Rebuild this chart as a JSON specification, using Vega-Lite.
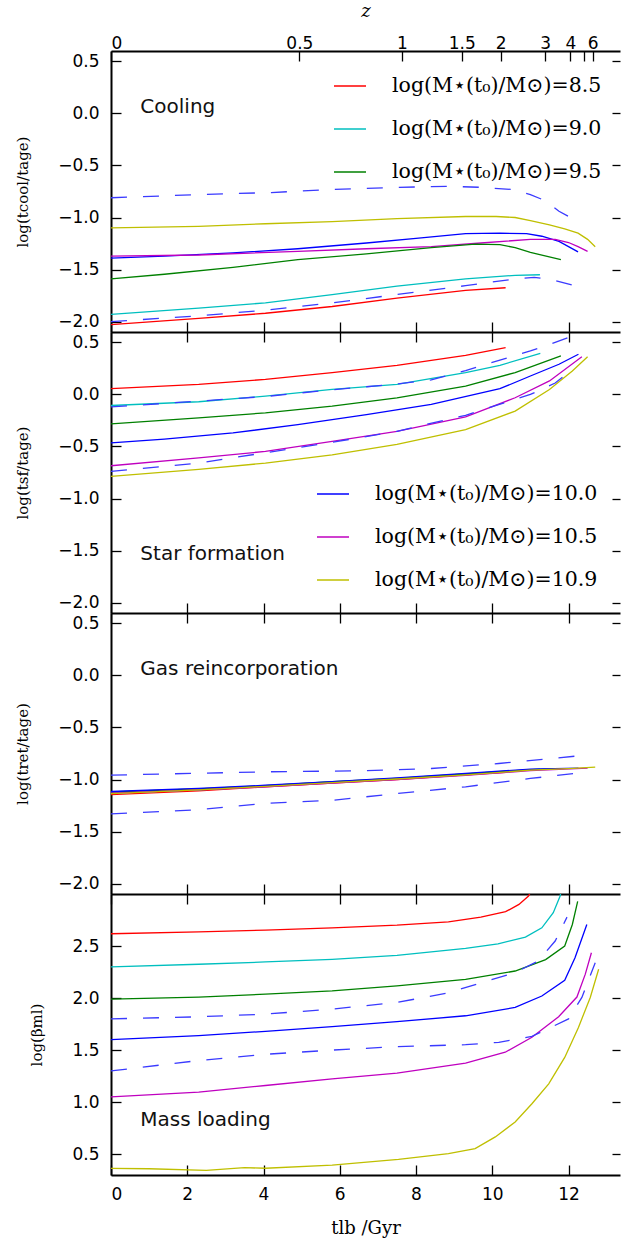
{
  "$schema": "https://vega.github.io/schema/vega-lite/v6.json",
  "background": "white",
  "padding": {"left": 15, "top": 2, "right": 0, "bottom": 2},
  "spacing": 0,
  "bounds": "flush",
  "config": {
    "view": {"stroke": null},
    "axis": {"domainColor": "black", "domainWidth": 2, "tickColor": "black", "tickWidth": 1.3, "tickSize": -10, "labelFont": "DejaVu Sans", "labelFontSize": 17, "labelColor": "black", "labelPadding": 22, "grid": false, "titleFont": "DejaVu Serif", "titleFontSize": 15, "titleFontWeight": "normal", "titleColor": "black", "titlePadding": 27},
    "legend": {"symbolType": "stroke", "symbolSize": 1024, "symbolStrokeWidth": 1.5, "labelFont": "DejaVu Serif", "labelFontSize": 20.5, "labelColor": "black", "labelLimit": 400, "rowPadding": 15, "labelOffset": 25, "offset": 18, "padding": 0}
  },
  "resolve": {"scale": {"color": "independent"}},
  "data": {"values": [
    {"p":1,"s":"hi","t":0,"v":-0.81},{"p":1,"s":"hi","t":2.3,"v":-0.78},{"p":1,"s":"hi","t":4.2,"v":-0.76},{"p":1,"s":"hi","t":5.8,"v":-0.73},{"p":1,"s":"hi","t":7.5,"v":-0.71},{"p":1,"s":"hi","t":8.85,"v":-0.7},{"p":1,"s":"hi","t":9.7,"v":-0.71},{"p":1,"s":"hi","t":10.5,"v":-0.73},{"p":1,"s":"hi","t":11.0,"v":-0.78},{"p":1,"s":"hi","t":11.4,"v":-0.84},{"p":1,"s":"hi","t":11.75,"v":-0.94},{"p":1,"s":"hi","t":12.05,"v":-1.0},
    {"p":1,"s":"10.9","t":0,"v":-1.1},{"p":1,"s":"10.9","t":2.3,"v":-1.085},{"p":1,"s":"10.9","t":4.05,"v":-1.06},{"p":1,"s":"10.9","t":5.8,"v":-1.04},{"p":1,"s":"10.9","t":7.5,"v":-1.01},{"p":1,"s":"10.9","t":9.3,"v":-0.99},{"p":1,"s":"10.9","t":10.1,"v":-0.99},{"p":1,"s":"10.9","t":10.6,"v":-1.0},{"p":1,"s":"10.9","t":11.0,"v":-1.03},{"p":1,"s":"10.9","t":11.5,"v":-1.07},{"p":1,"s":"10.9","t":11.9,"v":-1.11},{"p":1,"s":"10.9","t":12.25,"v":-1.15},{"p":1,"s":"10.9","t":12.5,"v":-1.21},{"p":1,"s":"10.9","t":12.7,"v":-1.28},
    {"p":1,"s":"10.0","t":0,"v":-1.39},{"p":1,"s":"10.0","t":1.4,"v":-1.37},{"p":1,"s":"10.0","t":3.2,"v":-1.34},{"p":1,"s":"10.0","t":4.9,"v":-1.3},{"p":1,"s":"10.0","t":6.7,"v":-1.245},{"p":1,"s":"10.0","t":8.0,"v":-1.2},{"p":1,"s":"10.0","t":9.3,"v":-1.155},{"p":1,"s":"10.0","t":10.2,"v":-1.15},{"p":1,"s":"10.0","t":10.9,"v":-1.155},{"p":1,"s":"10.0","t":11.3,"v":-1.18},{"p":1,"s":"10.0","t":11.75,"v":-1.23},{"p":1,"s":"10.0","t":12.0,"v":-1.28},{"p":1,"s":"10.0","t":12.25,"v":-1.33},
    {"p":1,"s":"10.5","t":0,"v":-1.37},{"p":1,"s":"10.5","t":2.3,"v":-1.36},{"p":1,"s":"10.5","t":4.9,"v":-1.325},{"p":1,"s":"10.5","t":6.7,"v":-1.3},{"p":1,"s":"10.5","t":8.4,"v":-1.28},{"p":1,"s":"10.5","t":9.7,"v":-1.245},{"p":1,"s":"10.5","t":11.0,"v":-1.21},{"p":1,"s":"10.5","t":11.65,"v":-1.21},{"p":1,"s":"10.5","t":12.0,"v":-1.24},{"p":1,"s":"10.5","t":12.25,"v":-1.28},{"p":1,"s":"10.5","t":12.5,"v":-1.325},
    {"p":1,"s":"9.5","t":0,"v":-1.59},{"p":1,"s":"9.5","t":1.4,"v":-1.545},{"p":1,"s":"9.5","t":3.2,"v":-1.48},{"p":1,"s":"9.5","t":4.9,"v":-1.405},{"p":1,"s":"9.5","t":6.7,"v":-1.35},{"p":1,"s":"9.5","t":8.4,"v":-1.29},{"p":1,"s":"9.5","t":9.55,"v":-1.255},{"p":1,"s":"9.5","t":10.2,"v":-1.26},{"p":1,"s":"9.5","t":10.6,"v":-1.29},{"p":1,"s":"9.5","t":11.0,"v":-1.335},{"p":1,"s":"9.5","t":11.8,"v":-1.405},
    {"p":1,"s":"9.0","t":0,"v":-1.93},{"p":1,"s":"9.0","t":2.3,"v":-1.87},{"p":1,"s":"9.0","t":4.05,"v":-1.82},{"p":1,"s":"9.0","t":5.8,"v":-1.74},{"p":1,"s":"9.0","t":7.5,"v":-1.66},{"p":1,"s":"9.0","t":9.3,"v":-1.59},{"p":1,"s":"9.0","t":10.6,"v":-1.555},{"p":1,"s":"9.0","t":11.25,"v":-1.55},
    {"p":1,"s":"8.5","t":0,"v":-2.03},{"p":1,"s":"8.5","t":2.3,"v":-1.97},{"p":1,"s":"8.5","t":4.05,"v":-1.92},{"p":1,"s":"8.5","t":5.8,"v":-1.855},{"p":1,"s":"8.5","t":7.5,"v":-1.775},{"p":1,"s":"8.5","t":9.3,"v":-1.7},{"p":1,"s":"8.5","t":10.35,"v":-1.675},
    {"p":1,"s":"lo","t":0,"v":-2.0},{"p":1,"s":"lo","t":2.3,"v":-1.945},{"p":1,"s":"lo","t":4.05,"v":-1.89},{"p":1,"s":"lo","t":5.8,"v":-1.82},{"p":1,"s":"lo","t":7.5,"v":-1.74},{"p":1,"s":"lo","t":9.3,"v":-1.655},{"p":1,"s":"lo","t":10.6,"v":-1.59},{"p":1,"s":"lo","t":11.1,"v":-1.575},{"p":1,"s":"lo","t":11.6,"v":-1.6},{"p":1,"s":"lo","t":12.1,"v":-1.65},

    {"p":2,"s":"8.5","t":0,"v":0.055},{"p":2,"s":"8.5","t":2.3,"v":0.096},{"p":2,"s":"8.5","t":4.05,"v":0.145},{"p":2,"s":"8.5","t":5.8,"v":0.21},{"p":2,"s":"8.5","t":7.5,"v":0.28},{"p":2,"s":"8.5","t":9.3,"v":0.376},{"p":2,"s":"8.5","t":10.35,"v":0.45},
    {"p":2,"s":"9.0","t":0,"v":-0.106},{"p":2,"s":"9.0","t":2.3,"v":-0.07},{"p":2,"s":"9.0","t":4.05,"v":-0.016},{"p":2,"s":"9.0","t":5.8,"v":0.048},{"p":2,"s":"9.0","t":7.5,"v":0.096},{"p":2,"s":"9.0","t":9.3,"v":0.21},{"p":2,"s":"9.0","t":10.2,"v":0.28},{"p":2,"s":"9.0","t":11.26,"v":0.395},
    {"p":2,"s":"9.5","t":0,"v":-0.283},{"p":2,"s":"9.5","t":2.3,"v":-0.225},{"p":2,"s":"9.5","t":4.05,"v":-0.177},{"p":2,"s":"9.5","t":5.8,"v":-0.113},{"p":2,"s":"9.5","t":7.5,"v":-0.032},{"p":2,"s":"9.5","t":9.3,"v":0.08},{"p":2,"s":"9.5","t":10.6,"v":0.21},{"p":2,"s":"9.5","t":11.8,"v":0.37},
    {"p":2,"s":"10.0","t":0,"v":-0.466},{"p":2,"s":"10.0","t":1.4,"v":-0.43},{"p":2,"s":"10.0","t":3.2,"v":-0.37},{"p":2,"s":"10.0","t":4.9,"v":-0.29},{"p":2,"s":"10.0","t":6.7,"v":-0.193},{"p":2,"s":"10.0","t":8.4,"v":-0.096},{"p":2,"s":"10.0","t":10.2,"v":0.055},{"p":2,"s":"10.0","t":11.0,"v":0.177},{"p":2,"s":"10.0","t":11.75,"v":0.29},{"p":2,"s":"10.0","t":12.26,"v":0.386},
    {"p":2,"s":"10.5","t":0,"v":-0.685},{"p":2,"s":"10.5","t":2.3,"v":-0.61},{"p":2,"s":"10.5","t":4.05,"v":-0.547},{"p":2,"s":"10.5","t":5.8,"v":-0.45},{"p":2,"s":"10.5","t":7.5,"v":-0.354},{"p":2,"s":"10.5","t":9.3,"v":-0.215},{"p":2,"s":"10.5","t":10.6,"v":-0.032},{"p":2,"s":"10.5","t":11.5,"v":0.13},{"p":2,"s":"10.5","t":12.35,"v":0.363},
    {"p":2,"s":"10.9","t":0,"v":-0.788},{"p":2,"s":"10.9","t":2.3,"v":-0.72},{"p":2,"s":"10.9","t":4.05,"v":-0.66},{"p":2,"s":"10.9","t":5.8,"v":-0.58},{"p":2,"s":"10.9","t":7.5,"v":-0.48},{"p":2,"s":"10.9","t":9.3,"v":-0.338},{"p":2,"s":"10.9","t":10.6,"v":-0.16},{"p":2,"s":"10.9","t":11.5,"v":0.048},{"p":2,"s":"10.9","t":12.1,"v":0.225},{"p":2,"s":"10.9","t":12.5,"v":0.363},
    {"p":2,"s":"hi","t":0,"v":-0.12},{"p":2,"s":"hi","t":2.3,"v":-0.064},{"p":2,"s":"hi","t":4.05,"v":-0.02},{"p":2,"s":"hi","t":5.8,"v":0.045},{"p":2,"s":"hi","t":7.5,"v":0.1},{"p":2,"s":"hi","t":8.4,"v":0.14},{"p":2,"s":"hi","t":9.3,"v":0.23},{"p":2,"s":"hi","t":10.2,"v":0.33},{"p":2,"s":"hi","t":11.0,"v":0.418},{"p":2,"s":"hi","t":11.5,"v":0.48},{"p":2,"s":"hi","t":12.0,"v":0.547},
    {"p":2,"s":"lo","t":0,"v":-0.74},{"p":2,"s":"lo","t":2.3,"v":-0.66},{"p":2,"s":"lo","t":4.05,"v":-0.56},{"p":2,"s":"lo","t":5.8,"v":-0.46},{"p":2,"s":"lo","t":7.5,"v":-0.354},{"p":2,"s":"lo","t":9.3,"v":-0.2},{"p":2,"s":"lo","t":11.0,"v":0.0},{"p":2,"s":"lo","t":11.65,"v":0.11},{"p":2,"s":"lo","t":12.1,"v":0.24},

    {"p":3,"s":"8.5","t":0,"v":-1.145},{"p":3,"s":"8.5","t":2.3,"v":-1.11},{"p":3,"s":"8.5","t":4.05,"v":-1.07},{"p":3,"s":"8.5","t":5.8,"v":-1.035},{"p":3,"s":"8.5","t":7.5,"v":-1.0},{"p":3,"s":"8.5","t":9.3,"v":-0.955},{"p":3,"s":"8.5","t":10.35,"v":-0.93},
    {"p":3,"s":"9.0","t":0,"v":-1.13},{"p":3,"s":"9.0","t":2.3,"v":-1.1},{"p":3,"s":"9.0","t":4.05,"v":-1.065},{"p":3,"s":"9.0","t":5.8,"v":-1.03},{"p":3,"s":"9.0","t":7.5,"v":-0.995},{"p":3,"s":"9.0","t":9.3,"v":-0.95},{"p":3,"s":"9.0","t":11.25,"v":-0.9},
    {"p":3,"s":"9.5","t":0,"v":-1.12},{"p":3,"s":"9.5","t":2.3,"v":-1.09},{"p":3,"s":"9.5","t":4.05,"v":-1.06},{"p":3,"s":"9.5","t":5.8,"v":-1.02},{"p":3,"s":"9.5","t":7.5,"v":-0.99},{"p":3,"s":"9.5","t":9.3,"v":-0.945},{"p":3,"s":"9.5","t":11.0,"v":-0.905},{"p":3,"s":"9.5","t":11.8,"v":-0.895},
    {"p":3,"s":"10.0","t":0,"v":-1.115},{"p":3,"s":"10.0","t":2.3,"v":-1.085},{"p":3,"s":"10.0","t":4.05,"v":-1.055},{"p":3,"s":"10.0","t":5.8,"v":-1.02},{"p":3,"s":"10.0","t":7.5,"v":-0.985},{"p":3,"s":"10.0","t":9.3,"v":-0.94},{"p":3,"s":"10.0","t":11.0,"v":-0.9},{"p":3,"s":"10.0","t":12.26,"v":-0.89},
    {"p":3,"s":"10.5","t":0,"v":-1.13},{"p":3,"s":"10.5","t":2.3,"v":-1.1},{"p":3,"s":"10.5","t":4.05,"v":-1.07},{"p":3,"s":"10.5","t":5.8,"v":-1.035},{"p":3,"s":"10.5","t":7.5,"v":-1.0},{"p":3,"s":"10.5","t":9.3,"v":-0.96},{"p":3,"s":"10.5","t":11.0,"v":-0.915},{"p":3,"s":"10.5","t":12.5,"v":-0.89},
    {"p":3,"s":"10.9","t":0,"v":-1.135},{"p":3,"s":"10.9","t":2.3,"v":-1.1},{"p":3,"s":"10.9","t":4.05,"v":-1.065},{"p":3,"s":"10.9","t":5.8,"v":-1.03},{"p":3,"s":"10.9","t":7.5,"v":-0.995},{"p":3,"s":"10.9","t":9.3,"v":-0.955},{"p":3,"s":"10.9","t":11.0,"v":-0.91},{"p":3,"s":"10.9","t":12.0,"v":-0.895},{"p":3,"s":"10.9","t":12.7,"v":-0.88},
    {"p":3,"s":"hi","t":0,"v":-0.958},{"p":3,"s":"hi","t":4.05,"v":-0.926},{"p":3,"s":"hi","t":6.67,"v":-0.916},{"p":3,"s":"hi","t":8.4,"v":-0.894},{"p":3,"s":"hi","t":10.17,"v":-0.846},{"p":3,"s":"hi","t":12.2,"v":-0.775},
    {"p":3,"s":"lo","t":0,"v":-1.33},{"p":3,"s":"lo","t":2.3,"v":-1.29},{"p":3,"s":"lo","t":4.05,"v":-1.23},{"p":3,"s":"lo","t":5.8,"v":-1.2},{"p":3,"s":"lo","t":7.5,"v":-1.135},{"p":3,"s":"lo","t":9.3,"v":-1.07},{"p":3,"s":"lo","t":11.0,"v":-0.99},{"p":3,"s":"lo","t":12.2,"v":-0.94},

    {"p":4,"s":"8.5","t":0,"v":2.618},{"p":4,"s":"8.5","t":2.3,"v":2.637},{"p":4,"s":"8.5","t":4.05,"v":2.653},{"p":4,"s":"8.5","t":5.8,"v":2.675},{"p":4,"s":"8.5","t":7.5,"v":2.7},{"p":4,"s":"8.5","t":8.85,"v":2.733},{"p":4,"s":"8.5","t":9.7,"v":2.777},{"p":4,"s":"8.5","t":10.35,"v":2.83},{"p":4,"s":"8.5","t":10.7,"v":2.9},{"p":4,"s":"8.5","t":10.95,"v":2.98},{"p":4,"s":"8.5","t":11.05,"v":3.05},
    {"p":4,"s":"9.0","t":0,"v":2.3},{"p":4,"s":"9.0","t":2.3,"v":2.325},{"p":4,"s":"9.0","t":4.05,"v":2.347},{"p":4,"s":"9.0","t":5.8,"v":2.372},{"p":4,"s":"9.0","t":7.5,"v":2.41},{"p":4,"s":"9.0","t":9.3,"v":2.478},{"p":4,"s":"9.0","t":10.15,"v":2.52},{"p":4,"s":"9.0","t":10.87,"v":2.586},{"p":4,"s":"9.0","t":11.3,"v":2.675},{"p":4,"s":"9.0","t":11.6,"v":2.82},{"p":4,"s":"9.0","t":11.78,"v":2.98},{"p":4,"s":"9.0","t":11.82,"v":3.05},
    {"p":4,"s":"9.5","t":0,"v":1.99},{"p":4,"s":"9.5","t":2.3,"v":2.01},{"p":4,"s":"9.5","t":4.05,"v":2.037},{"p":4,"s":"9.5","t":5.8,"v":2.069},{"p":4,"s":"9.5","t":7.5,"v":2.117},{"p":4,"s":"9.5","t":9.3,"v":2.18},{"p":4,"s":"9.5","t":10.6,"v":2.26},{"p":4,"s":"9.5","t":11.4,"v":2.37},{"p":4,"s":"9.5","t":11.9,"v":2.5},{"p":4,"s":"9.5","t":12.1,"v":2.707},{"p":4,"s":"9.5","t":12.24,"v":2.93},
    {"p":4,"s":"10.0","t":0,"v":1.6},{"p":4,"s":"10.0","t":2.3,"v":1.64},{"p":4,"s":"10.0","t":4.05,"v":1.68},{"p":4,"s":"10.0","t":5.8,"v":1.725},{"p":4,"s":"10.0","t":7.5,"v":1.773},{"p":4,"s":"10.0","t":9.3,"v":1.83},{"p":4,"s":"10.0","t":10.6,"v":1.91},{"p":4,"s":"10.0","t":11.3,"v":2.02},{"p":4,"s":"10.0","t":11.9,"v":2.17},{"p":4,"s":"10.0","t":12.17,"v":2.388},{"p":4,"s":"10.0","t":12.48,"v":2.707},
    {"p":4,"s":"10.5","t":0,"v":1.05},{"p":4,"s":"10.5","t":2.3,"v":1.097},{"p":4,"s":"10.5","t":4.05,"v":1.16},{"p":4,"s":"10.5","t":5.8,"v":1.224},{"p":4,"s":"10.5","t":7.5,"v":1.278},{"p":4,"s":"10.5","t":9.3,"v":1.374},{"p":4,"s":"10.5","t":10.34,"v":1.48},{"p":4,"s":"10.5","t":11.04,"v":1.623},{"p":4,"s":"10.5","t":11.74,"v":1.82},{"p":4,"s":"10.5","t":12.22,"v":2.01},{"p":4,"s":"10.5","t":12.44,"v":2.23},{"p":4,"s":"10.5","t":12.6,"v":2.436},
    {"p":4,"s":"10.9","t":0,"v":0.363},{"p":4,"s":"10.9","t":1.0,"v":0.36},{"p":4,"s":"10.9","t":2.5,"v":0.345},{"p":4,"s":"10.9","t":3.5,"v":0.37},{"p":4,"s":"10.9","t":4.05,"v":0.365},{"p":4,"s":"10.9","t":5.8,"v":0.394},{"p":4,"s":"10.9","t":7.54,"v":0.45},{"p":4,"s":"10.9","t":8.85,"v":0.506},{"p":4,"s":"10.9","t":9.55,"v":0.554},{"p":4,"s":"10.9","t":10.08,"v":0.666},{"p":4,"s":"10.9","t":10.6,"v":0.81},{"p":4,"s":"10.9","t":11.04,"v":0.985},{"p":4,"s":"10.9","t":11.48,"v":1.176},{"p":4,"s":"10.9","t":11.9,"v":1.43},{"p":4,"s":"10.9","t":12.26,"v":1.718},{"p":4,"s":"10.9","t":12.57,"v":2.006},{"p":4,"s":"10.9","t":12.79,"v":2.277},
    {"p":4,"s":"hi","t":0,"v":1.8},{"p":4,"s":"hi","t":2.3,"v":1.82},{"p":4,"s":"hi","t":4.05,"v":1.846},{"p":4,"s":"hi","t":5.8,"v":1.894},{"p":4,"s":"hi","t":7.5,"v":1.958},{"p":4,"s":"hi","t":8.85,"v":2.05},{"p":4,"s":"hi","t":9.73,"v":2.15},{"p":4,"s":"hi","t":10.6,"v":2.245},{"p":4,"s":"hi","t":11.2,"v":2.356},{"p":4,"s":"hi","t":11.65,"v":2.548},{"p":4,"s":"hi","t":11.96,"v":2.778},
    {"p":4,"s":"lo","t":0,"v":1.3},{"p":4,"s":"lo","t":2.3,"v":1.4},{"p":4,"s":"lo","t":4.05,"v":1.46},{"p":4,"s":"lo","t":5.8,"v":1.5},{"p":4,"s":"lo","t":7.5,"v":1.533},{"p":4,"s":"lo","t":9.3,"v":1.552},{"p":4,"s":"lo","t":10.17,"v":1.575},{"p":4,"s":"lo","t":11.04,"v":1.632},{"p":4,"s":"lo","t":12.0,"v":1.8},{"p":4,"s":"lo","t":12.35,"v":2.006},{"p":4,"s":"lo","t":12.7,"v":2.34}
  ]},
  "vconcat": [
    {
      "width": 509, "height": 281,
      "layer": [
        {
          "transform": [{"filter": "datum.p == 1 && datum.s != 'hi' && datum.s != 'lo'"}],
          "mark": {"type": "line", "strokeWidth": 1.3, "clip": true},
          "encoding": {
            "x": {"field": "t", "type": "quantitative", "scale": {"domain": [0, 13.35], "nice": false, "zero": false}, "axis": {"orient": "bottom", "values": [0, 2, 4, 6, 8, 10, 12], "labels": false, "title": null}},
            "y": {"field": "v", "type": "quantitative", "scale": {"domain": [-2.1, 0.6], "nice": false, "zero": false}, "axis": {"orient": "left", "values": [-2, -1.5, -1, -0.5, 0, 0.5], "format": ".1f", "title": "log(tcool/tage)"}},
            "color": {"field": "s", "type": "nominal", "scale": {"domain": ["8.5", "9.0", "9.5", "10.0", "10.5", "10.9"], "range": ["#ff0000", "#00bfbf", "#008000", "#0000ff", "#bf00bf", "#bfbf00"]}, "legend": {"values": ["8.5", "9.0", "9.5"], "orient": "top-right", "title": null, "labelExpr": "'log(M⋆(t₀)/M⊙)=' + datum.label"}}
          }
        },
        {
          "transform": [{"filter": "datum.p == 1 && (datum.s == 'hi' || datum.s == 'lo')"}],
          "mark": {"type": "line", "strokeWidth": 1.3, "strokeDash": [16, 16], "color": "#3a3aff", "clip": true},
          "encoding": {
            "x": {"field": "t", "type": "quantitative", "axis": {"orient": "top", "values": [0, 4.94, 7.63, 9.2, 10.22, 11.39, 12.05, 12.4, 12.63], "labelExpr": "['0','0.5','1','1.5','2','3','4','','6'][indexof([0, 4.94, 7.63, 9.2, 10.22, 11.39, 12.05, 12.4, 12.63], datum.value)]", "labelPadding": 9, "title": "z", "titleFontStyle": "italic", "titleFontSize": 18, "titlePadding": 14}},
            "y": {"field": "v", "type": "quantitative", "axis": {"orient": "right", "values": [-2, -1.5, -1, -0.5, 0, 0.5], "labels": false, "domain": false, "tickSize": -8, "title": null}},
            "detail": {"field": "s"}
          }
        },
        {
          "data": {"values": [{"label": "Cooling"}]},
          "mark": {"type": "text", "align": "left", "baseline": "middle", "font": "DejaVu Sans", "fontSize": 20, "color": "#111"},
          "encoding": {
            "x": {"datum": 0.77, "type": "quantitative", "axis": null},
            "y": {"datum": 0.06, "type": "quantitative", "axis": null},
            "text": {"field": "label"}
          }
        }
      ],
      "resolve": {"axis": {"x": "independent", "y": "independent"}}
    },
    {
      "width": 509, "height": 281,
      "layer": [
        {
          "transform": [{"filter": "datum.p == 2 && datum.s != 'hi' && datum.s != 'lo'"}],
          "mark": {"type": "line", "strokeWidth": 1.3, "clip": true},
          "encoding": {
            "x": {"field": "t", "type": "quantitative", "scale": {"domain": [0, 13.35], "nice": false, "zero": false}, "axis": {"orient": "bottom", "values": [0, 2, 4, 6, 8, 10, 12], "labels": false, "title": null}},
            "y": {"field": "v", "type": "quantitative", "scale": {"domain": [-2.1, 0.6], "nice": false, "zero": false}, "axis": {"orient": "left", "values": [-2, -1.5, -1, -0.5, 0, 0.5], "format": ".1f", "title": "log(tsf/tage)"}},
            "color": {"field": "s", "type": "nominal", "scale": {"domain": ["8.5", "9.0", "9.5", "10.0", "10.5", "10.9"], "range": ["#ff0000", "#00bfbf", "#008000", "#0000ff", "#bf00bf", "#bfbf00"]}, "legend": {"values": ["10.0", "10.5", "10.9"], "orient": "bottom-right", "offset": 22, "title": null, "labelExpr": "'log(M⋆(t₀)/M⊙)=' + datum.label"}}
          }
        },
        {
          "transform": [{"filter": "datum.p == 2 && (datum.s == 'hi' || datum.s == 'lo')"}],
          "mark": {"type": "line", "strokeWidth": 1.3, "strokeDash": [16, 16], "color": "#3a3aff", "clip": true},
          "encoding": {
            "x": {"field": "t", "type": "quantitative", "axis": {"orient": "top", "values": [0, 2, 4, 6, 8, 10, 12], "labels": false, "domain": false, "title": null}},
            "y": {"field": "v", "type": "quantitative", "axis": {"orient": "right", "values": [-2, -1.5, -1, -0.5, 0, 0.5], "labels": false, "domain": false, "tickSize": -8, "title": null}},
            "detail": {"field": "s"}
          }
        },
        {
          "data": {"values": [{"label": "Star formation"}]},
          "mark": {"type": "text", "align": "left", "baseline": "middle", "font": "DejaVu Sans", "fontSize": 20, "color": "#111"},
          "encoding": {
            "x": {"datum": 0.77, "type": "quantitative", "axis": null},
            "y": {"datum": -1.534, "type": "quantitative", "axis": null},
            "text": {"field": "label"}
          }
        }
      ],
      "resolve": {"axis": {"x": "independent", "y": "independent"}}
    },
    {
      "width": 509, "height": 281,
      "layer": [
        {
          "transform": [{"filter": "datum.p == 3 && datum.s != 'hi' && datum.s != 'lo'"}],
          "mark": {"type": "line", "strokeWidth": 1.3, "clip": true},
          "encoding": {
            "x": {"field": "t", "type": "quantitative", "scale": {"domain": [0, 13.35], "nice": false, "zero": false}, "axis": {"orient": "bottom", "values": [0, 2, 4, 6, 8, 10, 12], "labels": false, "title": null}},
            "y": {"field": "v", "type": "quantitative", "scale": {"domain": [-2.1, 0.6], "nice": false, "zero": false}, "axis": {"orient": "left", "values": [-2, -1.5, -1, -0.5, 0, 0.5], "format": ".1f", "title": "log(tret/tage)"}},
            "color": {"field": "s", "type": "nominal", "scale": {"domain": ["8.5", "9.0", "9.5", "10.0", "10.5", "10.9"], "range": ["#ff0000", "#00bfbf", "#008000", "#0000ff", "#bf00bf", "#bfbf00"]}, "legend": null}
          }
        },
        {
          "transform": [{"filter": "datum.p == 3 && (datum.s == 'hi' || datum.s == 'lo')"}],
          "mark": {"type": "line", "strokeWidth": 1.3, "strokeDash": [16, 16], "color": "#3a3aff", "clip": true},
          "encoding": {
            "x": {"field": "t", "type": "quantitative", "axis": {"orient": "top", "values": [0, 2, 4, 6, 8, 10, 12], "labels": false, "domain": false, "title": null}},
            "y": {"field": "v", "type": "quantitative", "axis": {"orient": "right", "values": [-2, -1.5, -1, -0.5, 0, 0.5], "labels": false, "domain": false, "tickSize": -8, "title": null}},
            "detail": {"field": "s"}
          }
        },
        {
          "data": {"values": [{"label": "Gas reincorporation"}]},
          "mark": {"type": "text", "align": "left", "baseline": "middle", "font": "DejaVu Sans", "fontSize": 20, "color": "#111"},
          "encoding": {
            "x": {"datum": 0.77, "type": "quantitative", "axis": null},
            "y": {"datum": 0.064, "type": "quantitative", "axis": null},
            "text": {"field": "label"}
          }
        }
      ],
      "resolve": {"axis": {"x": "independent", "y": "independent"}}
    },
    {
      "width": 509, "height": 281,
      "layer": [
        {
          "transform": [{"filter": "datum.p == 4 && datum.s != 'hi' && datum.s != 'lo'"}],
          "mark": {"type": "line", "strokeWidth": 1.3, "clip": true},
          "encoding": {
            "x": {"field": "t", "type": "quantitative", "scale": {"domain": [0, 13.35], "nice": false, "zero": false}, "axis": {"orient": "bottom", "values": [0, 2, 4, 6, 8, 10, 12], "labelPadding": 21, "title": "tlb /Gyr", "titleFontSize": 18, "titlePadding": 17}},
            "y": {"field": "v", "type": "quantitative", "scale": {"domain": [0.3, 3.0], "nice": false, "zero": false}, "axis": {"orient": "left", "values": [0.5, 1, 1.5, 2, 2.5], "format": ".1f", "title": "log(βml)"}},
            "color": {"field": "s", "type": "nominal", "scale": {"domain": ["8.5", "9.0", "9.5", "10.0", "10.5", "10.9"], "range": ["#ff0000", "#00bfbf", "#008000", "#0000ff", "#bf00bf", "#bfbf00"]}, "legend": null}
          }
        },
        {
          "transform": [{"filter": "datum.p == 4 && (datum.s == 'hi' || datum.s == 'lo')"}],
          "mark": {"type": "line", "strokeWidth": 1.3, "strokeDash": [16, 16], "color": "#3a3aff", "clip": true},
          "encoding": {
            "x": {"field": "t", "type": "quantitative", "axis": {"orient": "top", "values": [0, 2, 4, 6, 8, 10, 12], "labels": false, "domain": false, "title": null}},
            "y": {"field": "v", "type": "quantitative", "axis": {"orient": "right", "values": [0.5, 1, 1.5, 2, 2.5], "labels": false, "domain": false, "tickSize": -8, "title": null}},
            "detail": {"field": "s"}
          }
        },
        {
          "data": {"values": [{"label": "Mass loading"}]},
          "mark": {"type": "text", "align": "left", "baseline": "middle", "font": "DejaVu Sans", "fontSize": 20, "color": "#111"},
          "encoding": {
            "x": {"datum": 0.77, "type": "quantitative", "axis": null},
            "y": {"datum": 0.825, "type": "quantitative", "axis": null},
            "text": {"field": "label"}
          }
        }
      ],
      "resolve": {"axis": {"x": "independent", "y": "independent"}}
    }
  ]
}
